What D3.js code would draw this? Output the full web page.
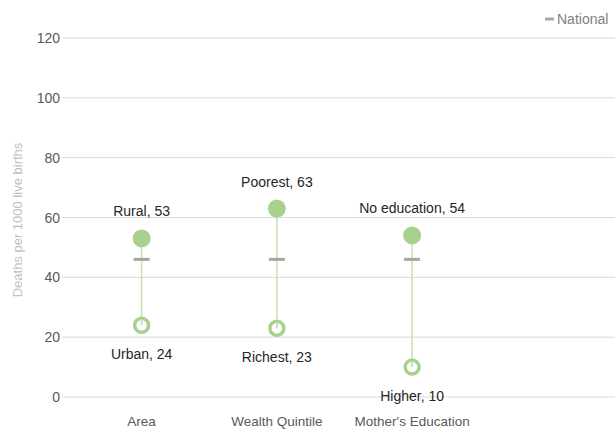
<!DOCTYPE html>
<html><head><meta charset="utf-8">
<script src="https://cdn.jsdelivr.net/npm/d3@7"></script>
<style>body{margin:0;background:#fff}svg{display:block}text{font-family:"Liberation Sans",Arial,sans-serif}</style>
</head><body><svg id="c" width="615" height="431"></svg>
<script>
const categories = ["Area", "Wealth Quintile", "Mother's Education"];
const highLabels = ["Rural", "Poorest", "No education"];
const highValues = [53, 63, 54];
const lowLabels = ["Urban", "Richest", "Higher"];
const lowValues = [24, 23, 10];
const nationalValues = [46, 46, 46];
const yTicks = [0, 20, 40, 60, 80, 100, 120];

const svg = d3.select("#c");
const green = "#a9d18e", lineGreen = "#c5e0b4", gray = "#a6a6a6";
const x = d3.scaleBand().domain([...categories, ""]).range([74, 615]);
const y = d3.scaleLinear().domain([0, 120]).range([397, 38]);
const cx = d => x(d) + x.bandwidth() / 2;

svg.append("g").selectAll("line").data(yTicks).join("line")
  .attr("x1", 62).attr("x2", 615).attr("y1", d => y(d)).attr("y2", d => y(d))
  .attr("stroke", "#d9d9d9").attr("stroke-width", 1);
svg.append("g").selectAll("text").data(yTicks).join("text")
  .attr("x", 60).attr("y", d => y(d) + 5).attr("text-anchor", "end")
  .attr("font-size", 14).attr("fill", "#595959").text(d => d);
svg.append("text").attr("transform", "translate(22,220) rotate(-90)")
  .attr("text-anchor", "middle").attr("font-size", 13).attr("fill", "#bfbfbf")
  .text("Deaths per 1000 live births");
svg.append("g").selectAll("text").data(categories).join("text")
  .attr("x", d => cx(d)).attr("y", 431 - 5).attr("text-anchor", "middle")
  .attr("font-size", 13.5).attr("fill", "#595959").text(d => d);

const data = categories.map((c, i) => ({c, hl: highLabels[i], hv: highValues[i], ll: lowLabels[i], lv: lowValues[i], nv: nationalValues[i]}));
const g = svg.append("g");
g.selectAll(".conn").data(data).join("line")
  .attr("x1", d => cx(d.c)).attr("x2", d => cx(d.c))
  .attr("y1", d => y(d.hv)).attr("y2", d => y(d.lv))
  .attr("stroke", lineGreen).attr("stroke-width", 1.5);
g.selectAll(".nat").data(data).join("line")
  .attr("x1", d => cx(d.c) - 8).attr("x2", d => cx(d.c) + 8)
  .attr("y1", d => y(d.nv)).attr("y2", d => y(d.nv))
  .attr("stroke", gray).attr("stroke-width", 3);
g.selectAll(".hi").data(data).join("circle")
  .attr("cx", d => cx(d.c)).attr("cy", d => y(d.hv)).attr("r", 9).attr("fill", green);
g.selectAll(".lo").data(data).join("circle")
  .attr("cx", d => cx(d.c)).attr("cy", d => y(d.lv)).attr("r", 7)
  .attr("fill", "none").attr("stroke", green).attr("stroke-width", 3.5);
g.selectAll(".lot").data(data).join("line")
  .attr("x1", d => cx(d.c)).attr("x2", d => cx(d.c))
  .attr("y1", d => y(d.lv) - 6).attr("y2", d => y(d.lv))
  .attr("stroke", lineGreen).attr("stroke-width", 1.5);
g.selectAll(".hl").data(data).join("text")
  .attr("x", d => cx(d.c)).attr("y", d => y(d.hv) - 22).attr("text-anchor", "middle")
  .attr("font-size", 14).attr("fill", "#262626").text(d => d.hl + ", " + d.hv);
g.selectAll(".ll").data(data).join("text")
  .attr("x", d => cx(d.c)).attr("y", d => y(d.lv) + 34).attr("text-anchor", "middle")
  .attr("font-size", 14).attr("fill", "#262626").text(d => d.ll + ", " + d.lv);

svg.append("line").attr("x1", 545).attr("x2", 554).attr("y1", 19).attr("y2", 19)
  .attr("stroke", gray).attr("stroke-width", 3);
svg.append("text").attr("x", 557).attr("y", 24).attr("font-size", 14)
  .attr("fill", "#808080").text("National");
</script></body></html>
